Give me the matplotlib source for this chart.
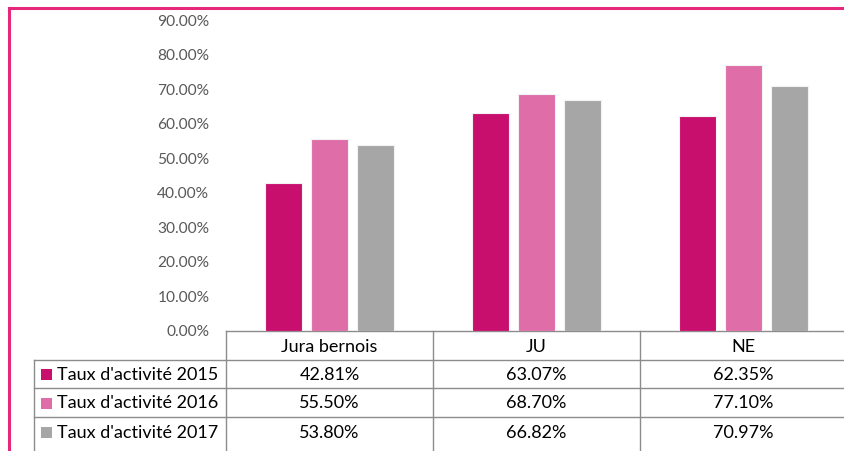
import matplotlib
matplotlib.use("Agg")
import matplotlib.pyplot as plt
import numpy as np
from matplotlib.patches import Rectangle
from matplotlib.lines import Line2D

plt.rcParams['font.family'] = ['Lato', 'DejaVu Sans']

# data
regions = ["Jura bernois", "JU", "NE"]
series = ["Taux d'activité 2015", "Taux d'activité 2016", "Taux d'activité 2017"]
taux_2015 = [0.4281, 0.6307, 0.6235]
taux_2016 = [0.5550, 0.6870, 0.7710]
taux_2017 = [0.5380, 0.6682, 0.7097]
colors = ["#C80F6E", "#DF6DA8", "#A6A6A6"]
yticks = [0.0, 0.1, 0.2, 0.3, 0.4, 0.5, 0.6, 0.7, 0.8, 0.9]

W, H = 845, 451
fig = plt.figure(figsize=(W / 100, H / 100), dpi=100)

# background axes in pixel coords (table + frame)
bg = fig.add_axes([0, 0, 1, 1])
bg.set_xlim(0, W); bg.set_ylim(H, 0); bg.axis("off")

# bar axes: x 226..847 px, y 0% at 331 px, 90% at 20 px
x0, x1, y0, y1 = 226, 847, 331, 20
ax = fig.add_axes([x0 / W, (H - y0) / H, (x1 - x0) / W, (y0 - y1) / H])
ax.set_xlim(-0.5, 2.5)
ax.set_ylim(0, 0.9)
x = np.arange(len(regions))
offs = [-0.222, 0.0, 0.222]
bw = 0.178
for vals, c, o in zip([taux_2015, taux_2016, taux_2017], colors, offs):
    ax.bar(x + o, vals, width=bw, color=c, edgecolor="#f2f2f2", linewidth=0.8)
ax.set_yticks(yticks)
ax.set_yticklabels([f"{v*100:.2f}%" for v in yticks], color="#595959", fontsize=11.2)
ax.tick_params(axis="y", length=0, pad=12)
ax.set_xticks([])
for s in ax.spines.values():
    s.set_visible(False)
ax.patch.set_alpha(0)

# table
gc = "#8C8C8C"
col_edges = [226, 433, 640, 847]
row_edges = [331, 360, 388, 417, 446]
lw = 1.0
fs = 13
# horizontal lines
bg.add_line(Line2D([226, W], [331, 331], color=gc, lw=lw))
for yy in row_edges[1:4]:
    bg.add_line(Line2D([34, W], [yy, yy], color=gc, lw=lw))
# vertical lines
for xx in col_edges[:3]:
    bg.add_line(Line2D([xx, xx], [331, H], color=gc, lw=lw))
bg.add_line(Line2D([34, 34], [360, H], color=gc, lw=lw))

# header
for i, r in enumerate(regions):
    cx = (col_edges[i] + col_edges[i + 1]) / 2
    bg.text(cx, (row_edges[0] + row_edges[1]) / 2 + 1, r, ha="center", va="center",
            fontsize=fs, color="black")
# rows
for j, (name, vals, c) in enumerate(zip(series, [taux_2015, taux_2016, taux_2017], colors)):
    cy = (row_edges[j + 1] + row_edges[j + 2]) / 2 + 1
    bg.add_patch(Rectangle((41, cy - 6), 11, 11, facecolor=c, edgecolor="none"))
    bg.text(57, cy, name, ha="left", va="center", fontsize=fs, color="black")
    for i, v in enumerate(vals):
        cx = (col_edges[i] + col_edges[i + 1]) / 2
        bg.text(cx, cy, f"{v*100:.2f}%", ha="center", va="center", fontsize=fs, color="black")

# pink frame
pink = "#E6287C"
bg.add_line(Line2D([9, W], [8, 8], color=pink, lw=2.2))
bg.add_line(Line2D([9, 9], [8, H], color=pink, lw=2.2))

fig.savefig("out.png", dpi=100)
